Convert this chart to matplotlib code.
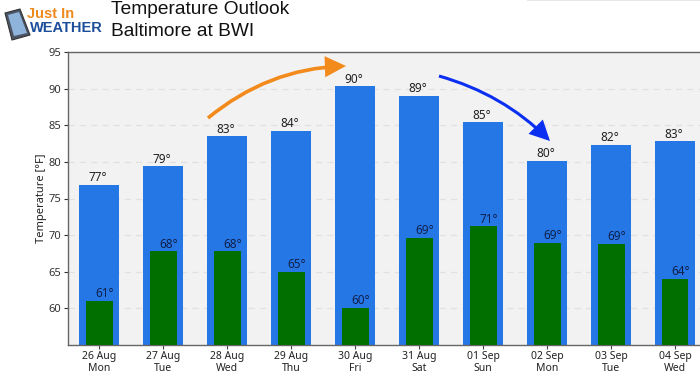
import matplotlib
matplotlib.use("Agg")
import matplotlib.pyplot as plt
from matplotlib.patches import FancyArrowPatch, Polygon, Rectangle
import numpy as np

dates = ["26 Aug", "27 Aug", "28 Aug", "29 Aug", "30 Aug", "31 Aug", "01 Sep", "02 Sep", "03 Sep", "04 Sep"]
days = ["Mon", "Tue", "Wed", "Thu", "Fri", "Sat", "Sun", "Mon", "Tue", "Wed"]
highs = [76.9, 79.4, 83.5, 84.2, 90.3, 89.0, 85.4, 80.1, 82.3, 82.8]
lows = [61.0, 67.8, 67.8, 65.0, 60.1, 69.6, 71.2, 68.9, 68.8, 64.0]
high_labels = [77, 79, 83, 84, 90, 89, 85, 80, 82, 83]
low_labels = [61, 68, 68, 65, 60, 69, 71, 69, 69, 64]
yticks = [60, 65, 70, 75, 80, 85, 90, 95]

W, H = 700, 380
plt.rcParams["font.family"] = ["Noto Sans", "DejaVu Sans"]

fig = plt.figure(figsize=(7, 3.8), dpi=100, facecolor="white")
ax = fig.add_axes([68 / W, 1 - 345 / H, (W - 68) / W, (345 - 52) / H], facecolor="#f3f2f3")

x = np.arange(len(dates))
ax.bar(x, highs, width=0.625, color="#2577e6", zorder=2)
ax.bar(x, lows, width=0.42, color="#006f00", zorder=3)

for i in x:
    ax.text(i - 0.02, highs[i] + 0.1, f"{high_labels[i]}°", ha="center", va="bottom",
            fontsize=8.5, color="#222222", zorder=4)
    ax.text(i + 0.09, lows[i] + 0.1, f"{low_labels[i]}°", ha="center", va="bottom",
            fontsize=8.5, color="#10204a", zorder=4)

ax.set_xlim(-0.49, 9.39)
ax.set_ylim(55, 95)
ax.set_yticks(yticks)
ax.set_xticks(x)
ax.set_xticklabels([f"{d}\n{n}" for d, n in zip(dates, days)], fontsize=7.5, color="#222222", linespacing=1.05)
ax.tick_params(axis="y", labelsize=8, colors="#333333", length=3, pad=2)
ax.tick_params(axis="x", length=3, pad=1.5, color="#444444")
ax.set_ylabel("Temperature [°F]", fontsize=8, color="#222222", labelpad=1)
ax.grid(axis="y", color="#e2e1e2", linestyle=(0, (5, 4)), linewidth=0.9, zorder=1)
ax.set_axisbelow(True)
ax.spines["right"].set_visible(False)
for s in ["left", "bottom", "top"]:
    ax.spines[s].set_color("#666666")
    ax.spines[s].set_linewidth(1.0)


def px(a, b):
    return (a / W, 1 - b / H)


# trend arrows
fig.add_artist(FancyArrowPatch(px(208, 118), px(346, 66), transform=fig.transFigure,
                               connectionstyle="arc3,rad=-0.17", arrowstyle="-|>,head_length=11,head_width=5.5",
                               color="#f28a1c", linewidth=2.6, zorder=6, shrinkA=0, shrinkB=0,
                               joinstyle="miter", capstyle="butt"))
fig.add_artist(FancyArrowPatch(px(439, 76), px(550, 141), transform=fig.transFigure,
                               connectionstyle="arc3,rad=-0.13", arrowstyle="-|>,head_length=11,head_width=5.5",
                               color="#0a2ff0", linewidth=2.2, zorder=6, shrinkA=0, shrinkB=0,
                               joinstyle="miter", capstyle="butt"))

# header
fig.text(111 / W, 1 - 10 / H, "Temperature Outlook", fontsize=13.8, family="Liberation Sans",
         color="#111111", va="center")
fig.text(111 / W, 1 - 32 / H, "Baltimore at BWI", fontsize=13.8, family="Liberation Sans",
         color="#111111", va="center")

# logo
phone = [px(5, 13), px(20, 9), px(30, 35), px(12, 40)]
screen = [px(8, 15), px(19, 12), px(27, 33), px(14, 36)]
fig.add_artist(Polygon(phone, closed=True, transform=fig.transFigure, facecolor="#4b5563",
                       edgecolor="#333333", linewidth=0.8, zorder=3, joinstyle="round"))
fig.add_artist(Polygon(screen, closed=True, transform=fig.transFigure, facecolor="#8fb4dc",
                       edgecolor="none", zorder=4))
fig.text(27 / W, 1 - 14 / H, "Just In", fontsize=10.5, fontweight="bold", color="#ef8a1d",
         family="Liberation Sans", va="center", zorder=5)
fig.text(30 / W, 1 - 28.5 / H, "WEATHER", fontsize=10.5, fontweight="bold", color="#1c4e9a",
         family="Liberation Sans", va="center", zorder=5)

# strip at the top right of the source image
fig.add_artist(Rectangle(px(527, 1), 173 / W, 1 / H, transform=fig.transFigure,
                         facecolor="#e6e6e6", edgecolor="none"))

fig.savefig("out.png", dpi=100)
